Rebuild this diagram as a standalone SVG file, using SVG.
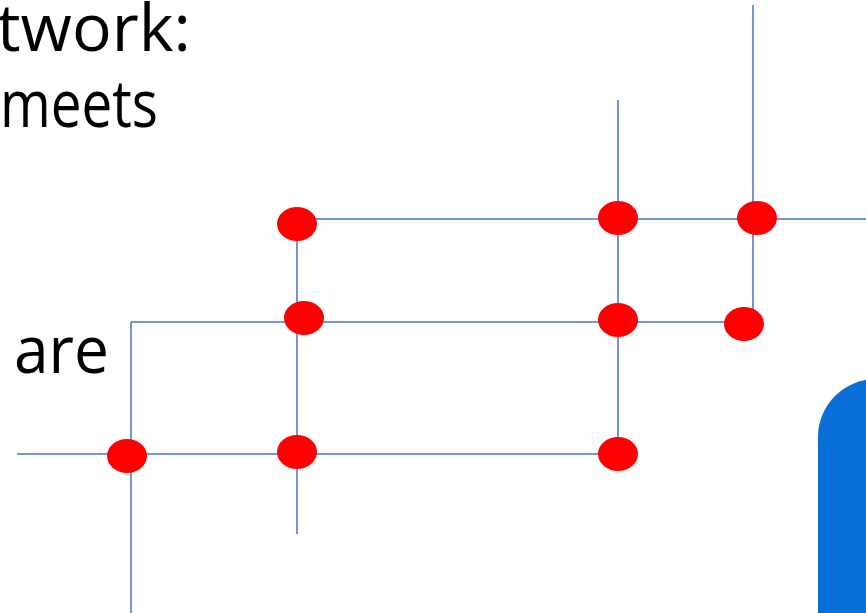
<svg xmlns="http://www.w3.org/2000/svg" width="866" height="613" viewBox="0 0 866 613">
<style>
.t{font-family:"Open Sans","Liberation Sans",sans-serif;fill:#000;font-size:66px}
.e{stroke:#4472C4;stroke-width:1.5;fill:none}
.n{fill:#FF0000}
</style>
<rect width="866" height="613" fill="#fff"/>
<g id="labels">
<text class="t" x="-3" y="51" textLength="194" lengthAdjust="spacingAndGlyphs">twork:</text>
<text class="t" x="0" y="127" textLength="158" lengthAdjust="spacingAndGlyphs">meets</text>
<text class="t" x="14" y="373" textLength="95" lengthAdjust="spacingAndGlyphs">are</text>
</g>
<g id="shape"><rect x="818" y="379" width="200" height="300" rx="58" fill="#0A6ED9"/></g>
<g id="connectors">
<line class="e" x1="297" y1="219" x2="866" y2="219"/>
<line class="e" x1="297" y1="219" x2="297" y2="534"/>
<line class="e" x1="131" y1="322" x2="743" y2="322"/>
<line class="e" x1="131" y1="322" x2="131" y2="613"/>
<line class="e" x1="17" y1="454" x2="618" y2="454"/>
<line class="e" x1="618" y1="100" x2="618" y2="454"/>
<line class="e" x1="753" y1="5" x2="753" y2="322"/>
</g>
<g id="n1"><ellipse class="n" cx="297" cy="224" rx="20" ry="17"/></g>
<g id="n2"><ellipse class="n" cx="304" cy="318" rx="20" ry="17"/></g>
<g id="n3"><ellipse class="n" cx="618" cy="218" rx="20" ry="17"/></g>
<g id="n4"><ellipse class="n" cx="757" cy="218" rx="20" ry="17"/></g>
<g id="n5"><ellipse class="n" cx="618" cy="320" rx="20" ry="17"/></g>
<g id="n6"><ellipse class="n" cx="744" cy="324" rx="20" ry="17"/></g>
<g id="n7"><ellipse class="n" cx="127" cy="456" rx="20" ry="17"/></g>
<g id="n8"><ellipse class="n" cx="297" cy="452" rx="20" ry="17"/></g>
<g id="n9"><ellipse class="n" cx="618" cy="454" rx="20" ry="17"/></g>
</svg>
